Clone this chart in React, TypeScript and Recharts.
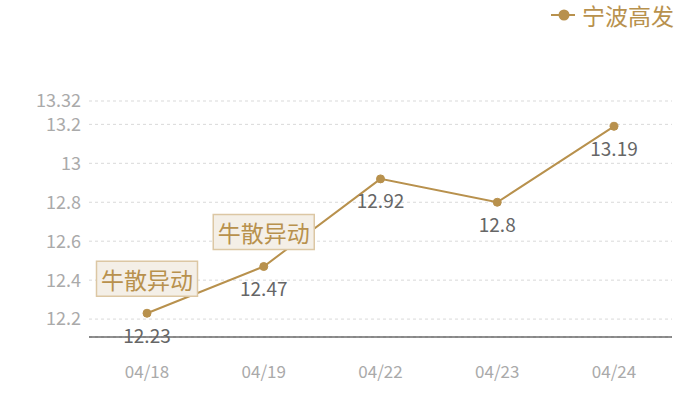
import { LineChart, Line, XAxis, YAxis, CartesianGrid, Legend, LabelList } from 'recharts';

const dates = ['04/18', '04/19', '04/22', '04/23', '04/24'];
const prices = [12.23, 12.47, 12.92, 12.8, 13.19];
const notes = ['牛散异动', '牛散异动', '', '', ''];
const yTicks = [12.2, 12.4, 12.6, 12.8, 13, 13.2, 13.32];
const yDomain = [12.108, 13.32];

const data = dates.map((date, i) => ({ date, price: prices[i], note: notes[i] }));

const GOLD = '#b8914d';
const FONT = '"Noto Sans CJK SC", "Noto Sans", sans-serif';

function NoteBox(props: any) {
  const { x, y, value } = props;
  if (!value) return null;
  const w = 101;
  const h = 35;
  return (
    <g>
      <rect x={x - w / 2} y={y - 17 - h} width={w} height={h} fill="#f4efe7" stroke="#dcc7a4" strokeWidth={1.5} />
      <text x={x} y={y - 17 - h / 2} textAnchor="middle" dominantBaseline="central" fontSize={23} fill={GOLD} fontFamily={FONT}>
        {value}
      </text>
    </g>
  );
}

function LegendBox() {
  return (
    <svg width={140} height={34} style={{ display: 'block', overflow: 'visible' }}>
      <line x1={1} y1={15} x2={25} y2={15} stroke={GOLD} strokeWidth={2} />
      <circle cx={14} cy={15} r={5.5} fill={GOLD} />
      <text x={32} y={15} dominantBaseline="central" fontSize={23} fill={GOLD} fontFamily={FONT}>
        宁波高发
      </text>
    </svg>
  );
}

export default function App() {
  return (
    <div style={{ position: 'absolute', left: 0, top: 0, width: 700, height: 400, background: '#fff', fontFamily: FONT }}>
      <LineChart width={700} height={400} data={data} margin={{ top: 67, right: 28, left: 0, bottom: 23 }}>
        <CartesianGrid vertical={false} strokeDasharray="3 3" stroke="#d9d9d9" />
        <XAxis
          dataKey="date"
          height={40}
          padding={{ left: 58, right: 58 }}
          axisLine={{ stroke: '#222', strokeWidth: 1 }}
          tickLine={false}
          tickSize={0}
          tickMargin={29}
          tick={{ fontSize: 17, fill: '#aaa', fontFamily: FONT }}
        />
        <YAxis
          width={89}
          domain={yDomain}
          ticks={yTicks}
          interval={0}
          allowDataOverflow
          axisLine={false}
          tickLine={false}
          tickSize={0}
          tickMargin={8}
          tick={{ fontSize: 18, fill: '#aaa', fontFamily: FONT }}
        />
        <Legend verticalAlign="top" align="right" content={<LegendBox />} wrapperStyle={{ top: 0, right: 10, width: 140 }} />
        <Line
          type="linear"
          dataKey="price"
          stroke={GOLD}
          strokeWidth={2}
          dot={{ r: 4, fill: GOLD, stroke: GOLD, strokeWidth: 1 }}
          isAnimationActive={false}
        >
          <LabelList dataKey="price" position="bottom" offset={16} fontSize={19} fill="#666" fontFamily={FONT} />
          <LabelList dataKey="note" content={<NoteBox />} />
        </Line>
      </LineChart>
    </div>
  );
}
